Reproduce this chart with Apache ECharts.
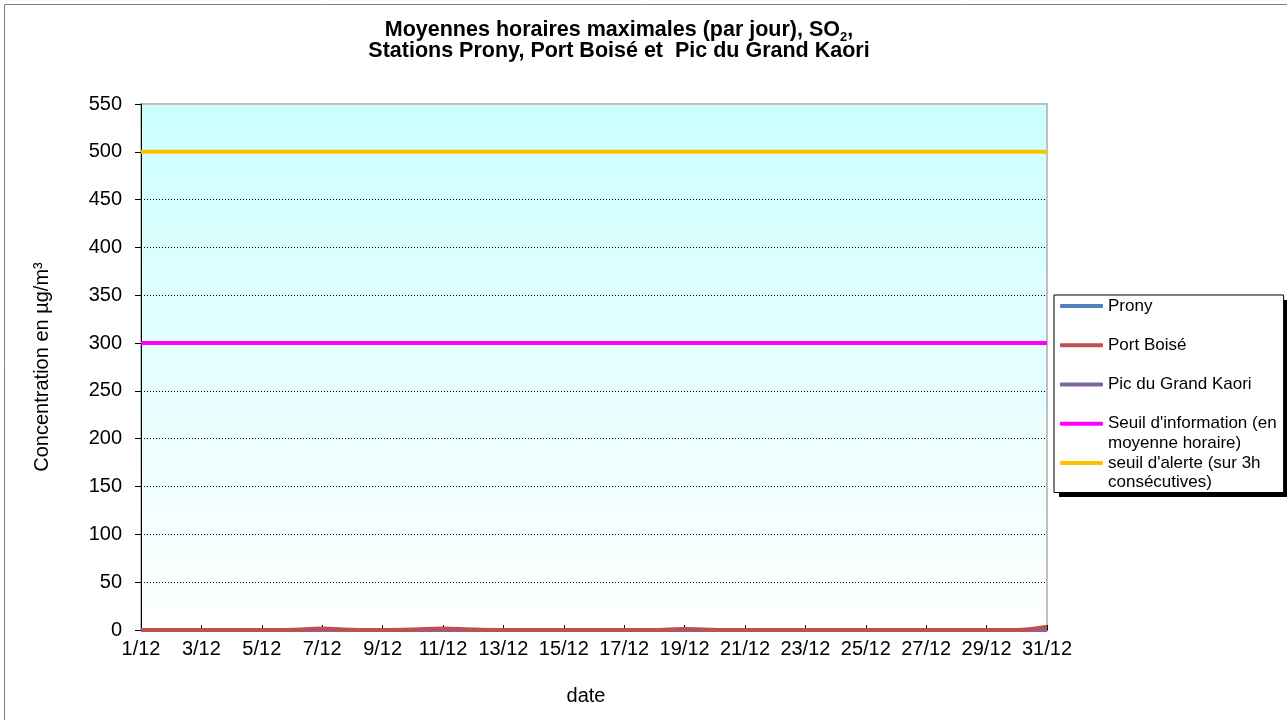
<!DOCTYPE html>
<html>
<head>
<meta charset="utf-8">
<script src="https://cdn.jsdelivr.net/npm/echarts@6/dist/echarts.min.js"></script>
<style>
html,body{margin:0;padding:0;background:#fff;}
#chart{width:1287px;height:720px;}
</style>
</head>
<body>
<div id="chart"></div>
<script>
var days = ['1/12','2/12','3/12','4/12','5/12','6/12','7/12','8/12','9/12','10/12','11/12','12/12','13/12','14/12','15/12','16/12','17/12','18/12','19/12','20/12','21/12','22/12','23/12','24/12','25/12','26/12','27/12','28/12','29/12','30/12','31/12'];
var prony = [0,0,0,0,0,0,0,0,0,0,0,0,0,0,0,0,0,0,0,0,0,0,0,0,0,0,0,0,0,0,0];
var portBoise = [0,0,0,0,0,0.3,1.5,0.3,0,0.5,1.5,0.5,0,0,0,0,0,0,1,0.3,0,0,0,0,0,0,0,0,0,0,3.5];
var picGrandKaori = [0,0,0,0,0,0,0,0,0,0,0,0,0,0,0,0,0,0,0,0,0,0,0,0,0,0,0,0,0,0,0];
var seuilInformation = [300,300,300,300,300,300,300,300,300,300,300,300,300,300,300,300,300,300,300,300,300,300,300,300,300,300,300,300,300,300,300];
var seuilAlerte = [500,500,500,500,500,500,500,500,500,500,500,500,500,500,500,500,500,500,500,500,500,500,500,500,500,500,500,500,500,500,500];
var yTicks = [0,50,100,150,200,250,300,350,400,450,500,550];

var FONT = 'Liberation Sans, Arial, sans-serif';
var chart = echarts.init(document.getElementById('chart'), null, {renderer:'canvas'});

var lineSeries = function(name, data, color, z){
  return {name:name, type:'line', data:data, symbol:'none', smooth:0.3, z:z,
    lineStyle:{color:color, width:4}, itemStyle:{color:color}, emphasis:{disabled:true}};
};

chart.setOption({
  animation:false,
  backgroundColor:'#ffffff',
  title:{
    text:'{b|Moyennes horaires maximales (par jour), SO}{s|2}{b|,}\n{b|Stations Prony, Port Boisé et  Pic du Grand Kaori}',
    left:619, top:20, padding:0, textAlign:'center',
    textStyle:{rich:{
      b:{fontFamily:FONT, fontWeight:'bold', fontSize:21.5, lineHeight:20.5, color:'#000'},
      s:{fontFamily:FONT, fontWeight:'bold', fontSize:13, lineHeight:20.5, verticalAlign:'bottom', color:'#000', padding:[0,0,-3,0]}
    }}
  },
  grid:{left:141, right:240, top:104, bottom:90, show:true, borderColor:'#c0c0c0', borderWidth:2,
    backgroundColor:{type:'linear', x:0, y:0, x2:0, y2:1, colorStops:[{offset:0,color:'#ccffff'},{offset:1,color:'#ffffff'}]}},
  legend:{
    orient:'vertical', left:1054, top:295, padding:[1.5,7,20,6], itemGap:20.25,
    itemWidth:43, itemHeight:4, icon:'roundRect',
    backgroundColor:'#ffffff', borderColor:'#000', borderWidth:1, z:5,
    textStyle:{fontFamily:FONT, fontSize:17, lineHeight:19, color:'#000'},
    data:['Prony','Port Boisé','Pic du Grand Kaori','Seuil d\'information (en','seuil d\'alerte (sur 3h'],
    selectedMode:false
  },
  xAxis:{
    type:'category', data:days, boundaryGap:false,
    name:'date', nameLocation:'middle', nameGap:56,
    nameTextStyle:{fontFamily:FONT, fontSize:20, color:'#000', padding:[0,16,0,0]},
    axisLine:{lineStyle:{color:'#000', width:1}},
    axisTick:{inside:true, length:5, interval:1, lineStyle:{color:'#000'}},
    axisLabel:{interval:1, margin:9, fontFamily:FONT, fontSize:20, color:'#000'},
    splitLine:{show:false}
  },
  yAxis:{
    type:'value', min:0, max:550, interval:50,
    name:'Concentration en µg/m³', nameLocation:'middle', nameGap:89, nameRotate:90,
    nameTextStyle:{fontFamily:FONT, fontSize:20, color:'#000'},
    axisLine:{show:true, lineStyle:{color:'#000', width:1}},
    axisTick:{show:true, inside:false, length:6, lineStyle:{color:'#000'}},
    axisLabel:{margin:19, fontFamily:FONT, fontSize:20, color:'#000',
      formatter:function(v){ return yTicks.indexOf(v) >= 0 ? String(v) : ''; }},
    splitLine:{show:true, showMaxLine:false, showMinLine:false, lineStyle:{color:'#000', width:1, type:[1,2]}}
  },
  graphic:[
    {type:'rect', shape:{x:4.5, y:4.5, width:1400, height:900}, style:{fill:'none', stroke:'#808080', lineWidth:1}, z:0, silent:true},
    {type:'rect', shape:{x:1059, y:300, width:229, height:197}, style:{fill:'#000'}, z:4, silent:true},
    {type:'text', x:1108, y:443, style:{text:'moyenne horaire)', fontFamily:FONT, fontSize:17, fill:'#000', verticalAlign:'middle', align:'left'}, z:100, silent:true},
    {type:'text', x:1108, y:482, style:{text:'consécutives)', fontFamily:FONT, fontSize:17, fill:'#000', verticalAlign:'middle', align:'left'}, z:100, silent:true}
  ],
  series:[
    lineSeries('Prony', prony, '#4f81bd', 2),
    lineSeries('Port Boisé', portBoise, '#c0504d', 3.5),
    lineSeries('Pic du Grand Kaori', picGrandKaori, '#8064a2', 2.5),
    lineSeries('Seuil d\'information (en', seuilInformation, '#ff00ff', 3),
    lineSeries('seuil d\'alerte (sur 3h', seuilAlerte, '#ffc000', 3)
  ]
});
</script>
</body>
</html>
